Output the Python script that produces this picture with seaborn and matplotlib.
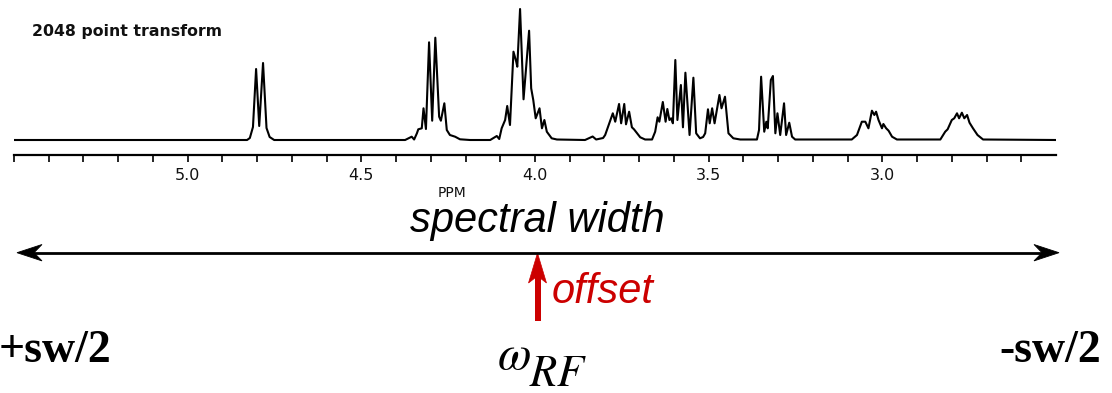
import numpy as np
import pandas as pd
import matplotlib
matplotlib.use("Agg")
import matplotlib.pyplot as plt
import seaborn as sns
from matplotlib.patches import Polygon
from matplotlib.lines import Line2D

# ---------------- data ----------------
ppm = [5.500, 4.829, 4.821, 4.812, 4.803, 4.794, 4.783, 4.773, 4.764, 4.751,
       4.374, 4.355, 4.348, 4.340, 4.336, 4.326, 4.321, 4.314, 4.305, 4.296,
       4.287, 4.276, 4.271, 4.261, 4.254, 4.245, 4.230, 4.216, 4.187,
       4.129, 4.110, 4.103, 4.096, 4.086, 4.080, 4.072, 4.062, 4.054, 4.051,
       4.043, 4.033, 4.017, 4.011, 4.005, 3.998, 3.987, 3.980, 3.973, 3.966,
       3.952, 3.937,
       3.856, 3.834, 3.824,
       3.804, 3.798, 3.786, 3.776, 3.769, 3.758, 3.752, 3.743, 3.738, 3.729,
       3.721, 3.715, 3.697, 3.683,
       3.663, 3.654, 3.647, 3.642, 3.632, 3.624, 3.619, 3.613, 3.608, 3.603,
       3.596, 3.590, 3.580, 3.574, 3.567, 3.555, 3.544, 3.536, 3.525,
       3.516, 3.510, 3.502, 3.497, 3.490, 3.483, 3.469, 3.463, 3.453, 3.443,
       3.429, 3.409,
       3.361, 3.355, 3.349, 3.340, 3.334, 3.330, 3.321, 3.315, 3.308, 3.302,
       3.294, 3.283, 3.277, 3.268, 3.260, 3.251,
       3.088, 3.073, 3.059, 3.049, 3.040, 3.030, 3.023, 3.018, 3.011, 3.001,
       2.997, 2.989, 2.982, 2.972, 2.958,
       2.833, 2.819, 2.812, 2.800, 2.793, 2.785, 2.779, 2.771, 2.764, 2.756,
       2.749, 2.739, 2.726, 2.710, 2.500]

intensity = [0.0, 0.0, 2.0, 13.0, 71.0, 14.0, 77.0, 12.0, 3.0, 0.0,
             0.0, 3.3, 0.5, 6.7, 10.7, 11.7, 31.7, 11.0, 97.7, 19.3,
             102.3, 23.3, 19.3, 36.7, 10.0, 5.0, 3.3, 0.7, 0.0,
             0.0, 4.0, 1.0, 11.7, 20.0, 34.0, 15.0, 88.3, 78.3, 73.3,
             131.0, 40.7, 109.3, 51.7, 40.0, 21.7, 31.7, 11.7, 20.0, 8.3,
             1.7, 0.5,
             0.0, 3.5, 0.5,
             2.0, 5.0, 16.7, 26.7, 18.3, 36.0, 16.7, 36.0, 15.7, 28.3,
             12.7, 10.7, 2.7, 0.5,
             0.5, 8.3, 22.7, 18.3, 38.0, 18.3, 31.0, 20.0, 21.7, 16.7,
             80.0, 20.0, 55.0, 12.7, 67.3, 5.0, 62.3, 6.7, 1.7,
             3.0, 6.7, 30.7, 16.7, 31.7, 16.7, 45.0, 31.7, 43.3, 6.7,
             1.7, 0.5,
             0.5, 10.0, 63.3, 8.3, 18.3, 11.7, 60.0, 64.0, 6.7, 26.7,
             5.0, 36.7, 5.0, 17.3, 3.3, 0.5,
             0.5, 5.0, 18.3, 18.3, 11.7, 29.3, 25.0, 28.3, 20.0, 11.7,
             16.0, 11.7, 9.3, 3.3, 0.5,
             0.5, 8.3, 10.7, 20.0, 21.7, 26.7, 21.7, 27.3, 21.7, 25.0,
             17.3, 11.7, 5.0, 0.5, 0.0]

major_ticks = [5.0, 4.5, 4.0, 3.5, 3.0]
major_labels = ["5.0", "4.5", "4.0", "3.5", "3.0"]
minor_ticks = [5.5, 5.4, 5.3, 5.2, 5.1, 4.9, 4.8, 4.7, 4.6, 4.4, 4.3, 4.2,
               4.1, 3.9, 3.8, 3.7, 3.6, 3.4, 3.3, 3.2, 3.1, 2.9, 2.8, 2.7, 2.6]

title_text = "2048 point transform"
axis_unit = "PPM"
sw_label = "spectral width"
offset_label = "offset"
left_label = "+sw/2"
right_label = "-sw/2"
omega_label = r"$\omega$"
rf_label = r"$RF$"

# ---------------- figure ----------------
sns.set_theme(style="white")
plt.rcParams["font.family"] = ["DejaVu Sans"]

W, H = 1112, 393
fig = plt.figure(figsize=(W / 100, H / 100), dpi=100)
fig.patch.set_facecolor("white")


def fx(x):
    return x / W


def fy(y):
    return 1 - y / H


def P(x, y):
    return (fx(x), fy(y))


ax = fig.add_axes([fx(14), fy(155), fx(1056) - fx(14), fy(5) - fy(155)])
ax.patch.set_alpha(0)

df = pd.DataFrame({"ppm": ppm, "intensity": intensity})
sns.lineplot(data=df, x="ppm", y="intensity", ax=ax, color="black",
             linewidth=1.5, sort=True)

ax.set_xlim(5.5, 2.5)
ax.set_ylim(-15, 135)
for s in ["top", "right", "left"]:
    ax.spines[s].set_visible(False)
ax.spines["bottom"].set_linewidth(1.6)
ax.spines["bottom"].set_color("black")
ax.set_yticks([])
ax.set_xticks(major_ticks)
ax.set_xticklabels(major_labels)
ax.set_xticks(minor_ticks, minor=True)
ax.tick_params(axis="x", which="both", bottom=True, direction="out",
               length=5, width=1.2, color="black")
ax.tick_params(axis="x", which="major", labelsize=11.5, pad=4,
               labelcolor="#111111")
ax.set_xlabel("")
ax.set_ylabel("")

# title-like note
fig.text(fx(32), fy(36), title_text, ha="left", va="baseline",
         fontsize=11.3, fontweight="bold", color="#111111")
# unit
fig.text(fx(452), fy(197), axis_unit, ha="center", va="baseline",
         fontsize=10, color="#111111")

# spectral width text
fig.text(fx(537), fy(232), sw_label, ha="center", va="baseline",
         fontsize=30, style="italic", family="Liberation Sans", color="black")

# double-headed arrow (shaft + stealth heads)
fig.add_artist(Line2D([fx(30), fx(1046)], [fy(252.7), fy(252.7)],
                      transform=fig.transFigure, color="black", lw=2.0,
                      solid_capstyle="butt"))
fig.add_artist(Polygon([P(17, 252.7), P(42, 244.5), P(34, 252.7), P(42, 260.9)],
                       closed=True, transform=fig.transFigure,
                       facecolor="black", edgecolor="black", lw=0.6))
fig.add_artist(Polygon([P(1059, 252.7), P(1034, 244.5), P(1042, 252.7), P(1034, 260.9)],
                       closed=True, transform=fig.transFigure,
                       facecolor="black", edgecolor="black", lw=0.6))

# red offset arrow
red = "#cc0000"
fig.add_artist(Polygon([P(534.5, 321), P(540.5, 321), P(540.5, 274), P(534.5, 274)],
                       closed=True, transform=fig.transFigure,
                       facecolor=red, edgecolor="none"))
fig.add_artist(Polygon([P(537.5, 253), P(546.5, 283), P(537.5, 276), P(528.5, 283)],
                       closed=True, transform=fig.transFigure,
                       facecolor=red, edgecolor=red, lw=0.5))
fig.text(fx(552), fy(303), offset_label, ha="left", va="baseline",
         fontsize=30, style="italic", family="Liberation Sans", color=red)

# sw/2 labels
fig.text(fx(-1), fy(362), left_label, ha="left", va="baseline",
         fontsize=33, fontweight="bold", family="Liberation Serif", color="black")
fig.text(fx(1101), fy(362), right_label, ha="right", va="baseline",
         fontsize=33, fontweight="bold", family="Liberation Serif", color="black")

# omega_RF
fig.text(fx(497), fy(369), omega_label, ha="left", va="baseline",
         fontsize=35, math_fontfamily="stix", color="black")
fig.text(fx(529), fy(386), rf_label, ha="left", va="baseline",
         fontsize=32, math_fontfamily="stix", color="black")

fig.savefig("out.png", dpi=100, facecolor="white")
